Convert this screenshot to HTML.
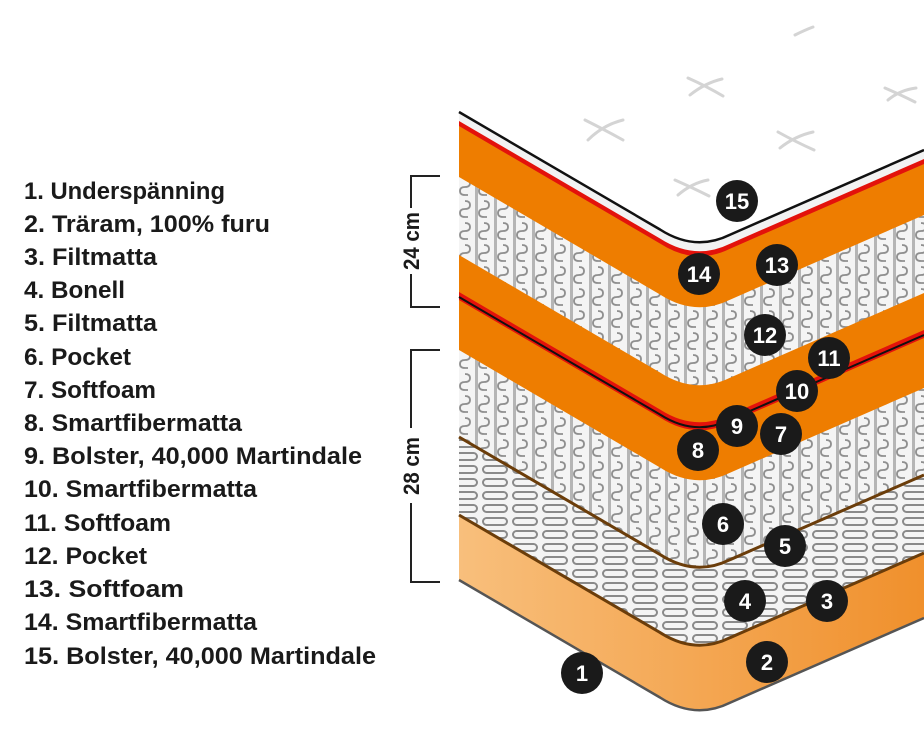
<!DOCTYPE html>
<html><head><meta charset="utf-8"><style>html,body{margin:0;padding:0;background:#fff;width:924px;height:732px;overflow:hidden}svg{display:block}</style></head>
<body>
<svg width="924" height="732" viewBox="0 0 924 732" xmlns="http://www.w3.org/2000/svg" style="overflow:hidden">
<defs>
<path id="b" d="M459,0 L660,117.5 Q695,140 730,122.7 L924,38 L924,300 L459,300 Z"/>
<path id="l" d="M459,0 L660,117.5 Q695,140 730,122.7 L924,38" fill="none"/>
<pattern id="pk" width="19" height="22" patternUnits="userSpaceOnUse">
<rect width="19" height="22" fill="#f4f4f4"/>
<rect x="0" width="3" height="22" fill="#b5b5b5"/>
<path d="M9,2 q5,0 5,4 q0,4 -5,4 q-5,0 -5,4 q0,4 5,4 l3,0" stroke="#8f8f8f" stroke-width="1.8" fill="none"/>
</pattern>
<pattern id="bn" width="30" height="13" patternUnits="userSpaceOnUse">
<rect width="30" height="13" fill="#f4f4f4"/>
<rect x="3" y="3" width="24" height="7" rx="3.5" stroke="#8a8a8a" stroke-width="2" fill="none"/>
</pattern>
<linearGradient id="bg" x1="0" x2="1" y1="0" y2="0"><stop offset="0" stop-color="#f8bf7c"/><stop offset="1" stop-color="#f0902c"/></linearGradient>
</defs>
<g stroke="#d4d4d4" stroke-width="3" fill="none" stroke-linecap="round">
<path d="M585,120 q20,10 38,20 M588,140 q15,-15 35,-20"/>
<path d="M688,78 q18,8 35,18 M690,95 q15,-12 32,-16"/>
<path d="M778,132 q18,10 36,18 M780,148 q15,-12 33,-16"/>
<path d="M675,180 q18,8 34,16 M678,195 q14,-12 30,-15"/>
<path d="M885,88 q14,6 30,14 M888,100 q12,-10 28,-12"/>
<path d="M795,35 q10,-5 18,-8"/>
</g>
<use href="#b" y="112" fill="#f2f2f2"/>
<use href="#l" y="112" stroke="#111" stroke-width="2.5"/>
<use href="#b" y="121" fill="#e3120b"/>
<use href="#b" y="126" fill="#ee7d00"/>
<use href="#b" y="177" fill="url(#pk)"/>
<use href="#b" y="255" fill="#ee7d00"/>
<use href="#b" y="292" fill="#e3120b"/>
<use href="#l" y="297" stroke="#111" stroke-width="2"/>
<use href="#b" y="300" fill="#ee7d00"/>
<use href="#b" y="350" fill="url(#pk)"/>
<use href="#b" y="437" fill="url(#bn)"/>
<use href="#l" y="437" stroke="#6b3d0a" stroke-width="3"/>
<use href="#b" y="515" fill="url(#bg)"/>
<use href="#l" y="515" stroke="#6b3d0a" stroke-width="3"/>
<use href="#b" y="580" fill="#fff"/>
<use href="#l" y="580" stroke="#555" stroke-width="2.5"/>
<g fill="#1a1a1a">
<circle cx="737" cy="201" r="21"/><circle cx="699" cy="274" r="21"/><circle cx="777" cy="265" r="21"/>
<circle cx="765" cy="335" r="21"/><circle cx="829" cy="358" r="21"/><circle cx="797" cy="391" r="21"/>
<circle cx="737" cy="426" r="21"/><circle cx="698" cy="450" r="21"/><circle cx="781" cy="434" r="21"/>
<circle cx="723" cy="524" r="21"/><circle cx="785" cy="546" r="21"/><circle cx="745" cy="601" r="21"/>
<circle cx="827" cy="601" r="21"/><circle cx="767" cy="662" r="21"/><circle cx="582" cy="673" r="21"/>
</g>
<g fill="#fff" font-family="Liberation Sans, sans-serif" font-weight="bold" font-size="22" text-anchor="middle">
<text x="737" y="209">15</text><text x="699" y="282">14</text><text x="777" y="273">13</text>
<text x="765" y="343">12</text><text x="829" y="366">11</text><text x="797" y="399">10</text>
<text x="737" y="434">9</text><text x="698" y="458">8</text><text x="781" y="442">7</text>
<text x="723" y="532">6</text><text x="785" y="554">5</text><text x="745" y="609">4</text>
<text x="827" y="609">3</text><text x="767" y="670">2</text><text x="582" y="681">1</text>
</g>
<g stroke="#222" stroke-width="2" fill="none">
<path d="M440,176 H411 V208 M411,274 V307 H440"/>
<path d="M440,350 H411 V428 M411,503 V582 H440"/>
</g>
<g font-family="Liberation Sans, sans-serif" font-weight="bold" font-size="22" fill="#1a1a1a">
<text transform="translate(419,241) rotate(-90)" text-anchor="middle" textLength="58" lengthAdjust="spacingAndGlyphs">24 cm</text>
<text transform="translate(419,466) rotate(-90)" text-anchor="middle" textLength="58" lengthAdjust="spacingAndGlyphs">28 cm</text>
</g>
<g font-family="Liberation Sans, sans-serif" font-weight="bold" font-size="24" fill="#1a1a1a">
<text x="24" y="199" textLength="201" lengthAdjust="spacingAndGlyphs">1. Underspänning</text>
<text x="24" y="232" textLength="246" lengthAdjust="spacingAndGlyphs">2. Träram, 100% furu</text>
<text x="24" y="265" textLength="133" lengthAdjust="spacingAndGlyphs">3. Filtmatta</text>
<text x="24" y="298" textLength="101" lengthAdjust="spacingAndGlyphs">4. Bonell</text>
<text x="24" y="331" textLength="133" lengthAdjust="spacingAndGlyphs">5. Filtmatta</text>
<text x="24" y="365" textLength="107" lengthAdjust="spacingAndGlyphs">6. Pocket</text>
<text x="24" y="398" textLength="132" lengthAdjust="spacingAndGlyphs">7. Softfoam</text>
<text x="24" y="431" textLength="218" lengthAdjust="spacingAndGlyphs">8. Smartfibermatta</text>
<text x="24" y="464" textLength="338" lengthAdjust="spacingAndGlyphs">9. Bolster, 40,000 Martindale</text>
<text x="24" y="497" textLength="233" lengthAdjust="spacingAndGlyphs">10. Smartfibermatta</text>
<text x="24" y="531" textLength="147" lengthAdjust="spacingAndGlyphs">11. Softfoam</text>
<text x="24" y="564" textLength="123" lengthAdjust="spacingAndGlyphs">12. Pocket</text>
<text x="24" y="597" textLength="160" lengthAdjust="spacingAndGlyphs">13. Softfoam</text>
<text x="24" y="630" textLength="233" lengthAdjust="spacingAndGlyphs">14. Smartfibermatta</text>
<text x="24" y="664" textLength="352" lengthAdjust="spacingAndGlyphs">15. Bolster, 40,000 Martindale</text>
</g>
</svg>
</body></html>
